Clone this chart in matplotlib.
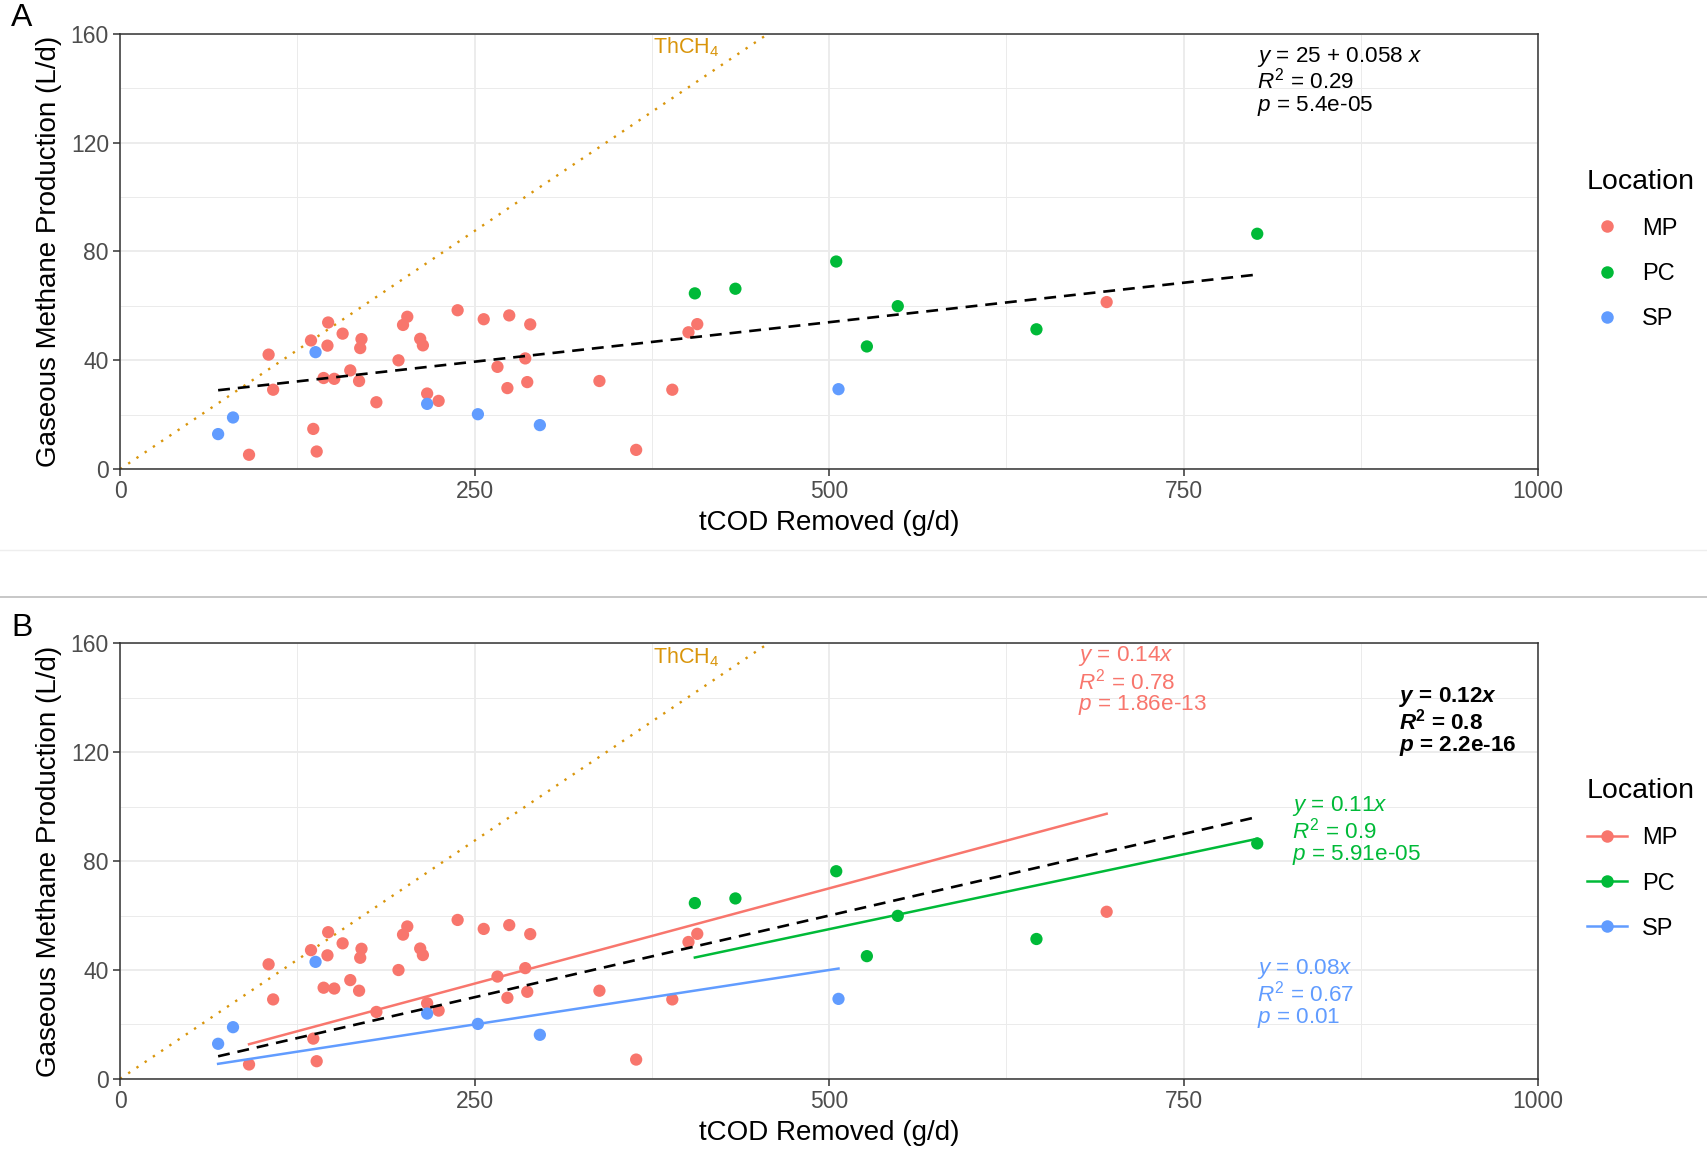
import matplotlib
matplotlib.use("Agg")
import matplotlib.pyplot as plt
import numpy as np
from matplotlib.lines import Line2D

plt.rcParams["font.family"] = ["Liberation Sans", "DejaVu Sans"]
plt.rcParams["mathtext.fontset"] = "custom"
plt.rcParams["mathtext.rm"] = "Liberation Sans"
plt.rcParams["mathtext.it"] = "Liberation Sans:italic"
plt.rcParams["mathtext.bf"] = "Liberation Sans:bold"
plt.rcParams["mathtext.bfit"] = "Liberation Sans:italic:bold"

# tCOD removed (g/d) and gaseous methane production (L/d) per location
mp_x = [104.8, 108, 91, 134.7, 146.8, 146.3, 157, 170.3, 169.4, 143.6, 151.1, 162.4,
        168.6, 136.3, 138.7, 180.8, 196.4, 199.6, 202.6, 211.7, 213.6, 216.6, 224.7,
        238.1, 256.5, 266.2, 274.5, 273.2, 285.8, 287.2, 289.3, 338.1, 364, 389.5,
        400.9, 407.1, 695.8]
mp_y = [42.1, 29.2, 5.3, 47.3, 53.9, 45.4, 49.8, 47.8, 44.5, 33.5, 33.2, 36.3,
        32.4, 14.8, 6.5, 24.6, 40, 53, 56, 47.9, 45.5, 27.8, 25.1,
        58.4, 55.1, 37.6, 56.5, 29.8, 40.7, 32, 53.2, 32.4, 7.1, 29.2,
        50.3, 53.3, 61.4]
pc_x = [405.4, 434, 505.1, 548.5, 526.7, 646.3, 802]
pc_y = [64.6, 66.3, 76.3, 59.9, 45.1, 51.4, 86.5]
sp_x = [69.2, 79.7, 137.9, 216.6, 252.4, 296.1, 506.7]
sp_y = [12.9, 19, 43, 24, 20.2, 16.2, 29.4]

locations = ["MP", "PC", "SP"]
loc_colors = ["#F8766D", "#00BA38", "#619CFF"]
series_x = [mp_x, pc_x, sp_x]
series_y = [mp_y, pc_y, sp_y]

# Theoretical methane yield (L CH4 per g COD)
th_ch4_slope = 0.35

# Panel A: pooled linear fit
fit_a_intercept = 25
fit_a_slope = 0.058

# Panel B: fits through the origin (pooled, then per location)
fit_b_all_slope = 0.12
fit_b_loc_slopes = [0.14, 0.11, 0.08]
fit_b_loc_r2 = ["0.78", "0.9", "0.67"]
fit_b_loc_p = ["1.86e-13", "5.91e-05", "0.01"]

x_ticks = [0, 250, 500, 750, 1000]
y_ticks = [0, 40, 80, 120, 160]

W, H = 1707, 1149
fig = plt.figure(figsize=(W / 100, H / 100), dpi=100)

ax_left = 120 / W
ax_w = (1538 - 120) / W
ax_h = (469.2 - 33.7) / H
ax_a = fig.add_axes([ax_left, 1 - 469.2 / H, ax_w, ax_h])
ax_b = fig.add_axes([ax_left, 1 - 1078.9 / H, ax_w, ax_h])

all_x = np.concatenate([np.asarray(s, float) for s in series_x])

ink = "#333333"
ann_size = 16.2


def style_axes(ax):
    ax.set_xlim(0, 1000)
    ax.set_ylim(0, 160)
    ax.set_xticks(x_ticks)
    ax.set_yticks(y_ticks)
    ax.set_xticks([125, 375, 625, 875], minor=True)
    ax.set_yticks([20, 60, 100, 140], minor=True)
    ax.grid(which="major", color="#EBEBEB", linewidth=1.3, zorder=0)
    ax.grid(which="minor", color="#EBEBEB", linewidth=0.7, zorder=0)
    ax.set_axisbelow(True)
    ax.tick_params(which="major", length=5, width=1.1, color=ink,
                   labelsize=16.5, labelcolor="#4D4D4D", pad=3)
    ax.tick_params(which="minor", length=0)
    for sp in ax.spines.values():
        sp.set_color(ink)
        sp.set_linewidth(1.1)
    ax.set_xlabel("tCOD Removed (g/d)", fontsize=20, color="black")
    ax.set_ylabel("Gaseous Methane Production (L/d)", fontsize=20, color="black")
    ax.xaxis.label.set_va("center")
    ax.yaxis.label.set_va("center")
    ax.xaxis.set_label_coords(0.5, -0.124)
    ax.yaxis.set_label_coords(-0.05, 0.5)
    # theoretical methane line
    xs = np.array([0, 1000])
    ax.plot(xs, th_ch4_slope * xs, color="#D9950B", linewidth=1.7,
            linestyle=(0, (1, 3.2)), zorder=2)
    ax.text(376, 155, r"ThCH$_4$", color="#D9950B", fontsize=15.5,
            ha="left", va="center", zorder=5)


def scatter_points(ax):
    for xs, ys, c in zip(series_x, series_y, loc_colors):
        ax.scatter(xs, ys, s=78, color=c, edgecolors="none", zorder=3)


def add_legend(ax, handles):
    ax.legend(handles, locations, title="Location", loc="center left",
              bbox_to_anchor=(1.026, 0.505), frameon=False, fontsize=17,
              title_fontsize=20.5, handlelength=1.7, handletextpad=0.65,
              labelspacing=0.98, borderpad=0, alignment="left")


# ---------------- Panel A ----------------
style_axes(ax_a)
scatter_points(ax_a)
xa = np.array([all_x.min(), all_x.max()])
ax_a.plot(xa, fit_a_intercept + fit_a_slope * xa, color="black", linewidth=1.9,
          linestyle=(0, (4.5, 3)), zorder=4)
ax_a.text(802, 151.6, r"$\mathit{y}$ = 25 + 0.058 $\mathit{x}$", fontsize=ann_size,
          ha="left", va="center", color="black")
ax_a.text(802, 142.8, r"$\mathit{R}^2$ = 0.29", fontsize=ann_size,
          ha="left", va="center", color="black")
ax_a.text(802, 133.6, r"$\mathit{p}$ = 5.4e-05", fontsize=ann_size,
          ha="left", va="center", color="black")

handles_a = [Line2D([], [], linestyle="none", marker="o", markersize=9,
                    markerfacecolor=c, markeredgecolor="none") for c in loc_colors]
add_legend(ax_a, handles_a)

# ---------------- Panel B ----------------
style_axes(ax_b)
scatter_points(ax_b)
xb = np.array([all_x.min(), all_x.max()])
ax_b.plot(xb, fit_b_all_slope * xb, color="black", linewidth=1.9,
          linestyle=(0, (4.5, 3)), zorder=4)
for xs, c, k in zip(series_x, loc_colors, fit_b_loc_slopes):
    xr = np.array([min(xs), max(xs)])
    ax_b.plot(xr, k * xr, color=c, linewidth=1.8, zorder=4)

label_pos = [(675.6, [155.2, 146.0, 137.2]),
             (826.6, [100.4, 91.2, 82.4]),
             (802.0, [40.4, 31.2, 22.4])]
for (lx, lys), c, k, r2, pv in zip(label_pos, loc_colors, fit_b_loc_slopes,
                                    fit_b_loc_r2, fit_b_loc_p):
    lines = [r"$\mathit{y}$ = " + f"{k:g}" + r"$\mathit{x}$",
             r"$\mathit{R}^2$ = " + r2,
             r"$\mathit{p}$ = " + pv]
    for txt, ly in zip(lines, lys):
        ax_b.text(lx, ly, txt, fontsize=ann_size, color=c, ha="left", va="center")

bold_lines = [r"$\mathbfit{y}$ = " + f"{fit_b_all_slope:g}" + r"$\mathbfit{x}$",
              r"$\mathbfit{R}^\mathbf{2}$ = 0.8",
              r"$\mathbfit{p}$ = 2.2e-16"]
for txt, ly in zip(bold_lines, [140.4, 131.2, 122.4]):
    ax_b.text(902, ly, txt, fontsize=ann_size, fontweight="bold", color="black",
              ha="left", va="center")

handles_b = [Line2D([], [], color=c, linewidth=1.8, marker="o", markersize=9,
                    markerfacecolor=c, markeredgecolor="none") for c in loc_colors]
add_legend(ax_b, handles_b)

# panel tags
fig.text(22 / W, 1 - 18 / H, "A", fontsize=23, ha="center", va="center")
fig.text(22 / W, 1 - 628 / H, "B", fontsize=23, ha="center", va="center")

# separators between the two panels
fig.add_artist(Line2D([0, 1], [1 - 550 / H, 1 - 550 / H], color="#EEEEEE",
                      linewidth=1.0, transform=fig.transFigure))
fig.add_artist(Line2D([0, 1], [1 - 597 / H, 1 - 597 / H], color="#BDBDBD",
                      linewidth=1.2, transform=fig.transFigure))

fig.savefig("out.png", dpi=100, facecolor="white")
